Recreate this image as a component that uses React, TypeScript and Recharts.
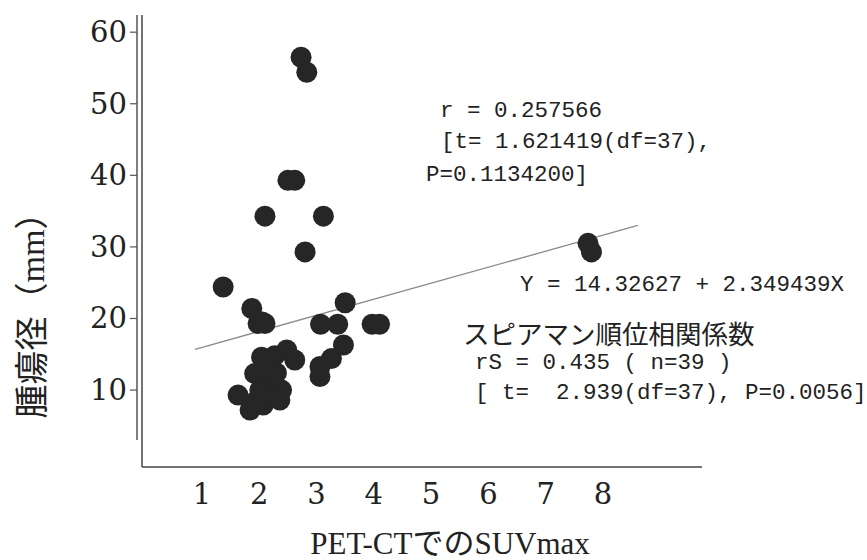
import React from 'react';
import {
  ScatterChart,
  Scatter,
  XAxis,
  YAxis,
  ReferenceLine
} from 'recharts';

// SUVmax (x) and tumour diameter in mm (y)
const suvMax = [
  2.73, 2.83, 2.5, 2.62, 2.1, 3.12, 2.8, 1.37, 7.74, 7.8,
  1.87, 1.98, 2.1, 3.5, 3.07, 3.37, 3.97, 4.1, 3.47, 3.26,
  3.06, 3.06, 2.48, 2.62, 2.04, 2.27, 1.92, 2.19, 2.39, 2.36,
  1.63, 1.84, 2.07, 2.01, 2.19, 2.12, 2.3, 1.95, 2.05
];
const tumorSize = [
  56.5, 54.4, 39.3, 39.3, 34.3, 34.3, 29.3, 24.4, 30.5, 29.3,
  21.4, 19.3, 19.3, 22.2, 19.2, 19.2, 19.2, 19.2, 16.3, 14.4,
  13.3, 11.9, 15.6, 14.2, 14.6, 14.8, 12.3, 11.4, 10.0, 8.6,
  9.3, 7.2, 7.9, 10.0, 9.1, 12.8, 12.4, 8.5, 19.5
];

const xTicks = [1, 2, 3, 4, 5, 6, 7, 8];
const yTicks = [10, 20, 30, 40, 50, 60];

// regression line ends as drawn in the figure
const fitLine = [
  { x: 0.88, y: 15.7 },
  { x: 8.61, y: 33.0 }
];

const points = suvMax.map((x, i) => ({ x, y: tumorSize[i] }));

const serif = '"DejaVu Serif", "Liberation Serif", "Noto Sans CJK JP", serif';
const mono = '"Liberation Mono", "Noto Sans CJK JP", monospace';
const cjk = '"Noto Sans CJK JP", sans-serif';
const ink = '#222';

const Dot = (props: any) => (
  <circle cx={props.cx} cy={props.cy} r={10.5} fill="#262626" />
);

const YTick = ({ y, payload }: any) => (
  <g>
    <line x1={130} x2={137} y1={y} y2={y} stroke="#555" strokeWidth={1.2} />
    <text
      x={127}
      y={y}
      textAnchor="end"
      dominantBaseline="central"
      fontFamily={serif}
      fontSize={29}
      fill={ink}
    >
      {payload.value}
    </text>
  </g>
);

export default function App() {
  return (
    <div style={{ position: 'absolute', left: 0, top: 0, background: '#fff' }}>
      <ScatterChart
        width={867}
        height={560}
        margin={{ top: 15, right: 165, left: 42, bottom: 33 }}
      >
        <XAxis
          type="number"
          dataKey="x"
          domain={[-0.047, 9.73]}
          ticks={xTicks}
          allowDataOverflow
          tickLine={false}
          tickSize={0}
          tickMargin={16}
          height={60}
          axisLine={{ stroke: '#444', strokeWidth: 1.5 }}
          tick={{ fontFamily: serif, fontSize: 29, fill: ink }}
        />
        <YAxis
          type="number"
          dataKey="y"
          domain={[-0.75, 62.4]}
          ticks={yTicks}
          allowDataOverflow
          width={100}
          tickLine={false}
          axisLine={{ stroke: '#444', strokeWidth: 1.5 }}
          tick={<YTick />}
        />
        <ReferenceLine
          segment={fitLine}
          stroke="#8a8a8a"
          strokeWidth={1.3}
          ifOverflow="visible"
        />
        <Scatter data={points} shape={<Dot />} isAnimationActive={false} />

        {/* tick axis line left of the frame */}
        <line x1={137} x2={137} y1={15} y2={440} stroke="#555" strokeWidth={1.5} />

        {/* axis titles */}
        <text
          x={450}
          y={554}
          textAnchor="middle"
          fontFamily='"Liberation Serif", "Noto Sans CJK JP", serif'
          fontSize={31}
          fill={ink}
        >
          PET-CTでのSUVmax
        </text>
        <text
          x={32}
          y={307}
          transform="rotate(-90, 32, 307)"
          textAnchor="middle"
          dominantBaseline="central"
          fontFamily='"Liberation Serif", "Noto Sans CJK JP", serif'
          fontSize={34}
          fill={ink}
        >
          腫瘍径（mm）
        </text>

        {/* statistics */}
        <g fontFamily={mono} fontSize={22.5} fill={ink} dominantBaseline="central">
          <text x={440} y={111}>r = 0.257566</text>
          <text x={441} y={142}>[t= 1.621419(df=37),</text>
          <text x={426} y={175}>P=0.1134200]</text>
          <text x={520} y={285}>Y = 14.32627 + 2.349439X</text>
          <text x={475} y={363}>rS = 0.435 ( n=39 )</text>
          <text x={475} y={393}>{'[ t=\u00a0\u00a02.939(df=37), P=0.0056]'}</text>
        </g>
        <text
          x={463}
          y={332}
          dominantBaseline="central"
          fontFamily={cjk}
          fontSize={26.5}
          fill={ink}
        >
          スピアマン順位相関係数
        </text>
      </ScatterChart>
    </div>
  );
}
